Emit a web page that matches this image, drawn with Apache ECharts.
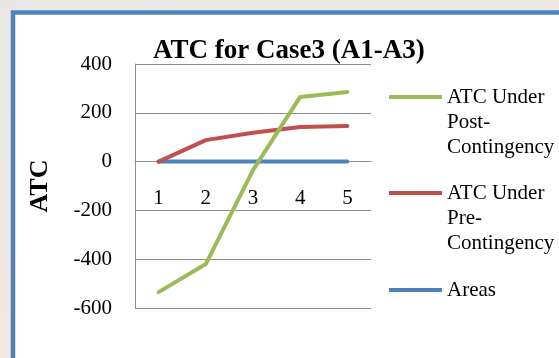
<!DOCTYPE html>
<html>
<head>
<meta charset="utf-8">
<script src="https://cdn.jsdelivr.net/npm/echarts@6/dist/echarts.min.js"></script>
<style>
html,body{margin:0;padding:0;}
#c{width:559px;height:358px;}
</style>
</head>
<body>
<div id="c"></div>
<script>
const categories = ['1', '2', '3', '4', '5'];
const postContingency = [-535, -420, -35, 265, 285];
const preContingency = [0, 88, 118, 142, 146];
const areas = [0, 0, 0, 0, 0];
const seriesNames = ['ATC Under\nPost-\nContingency', 'ATC Under\nPre-\nContingency', 'Areas'];
const titleText = 'ATC for Case3 (A1-A3)';
const yName = 'ATC';

const serif = '"Liberation Serif", "DejaVu Serif", serif';
const chart = echarts.init(document.getElementById('c'));
const legendBase = {
  orient: 'vertical', left: 389, padding: 0, icon: 'rect',
  itemWidth: 53, itemHeight: 4, itemGap: 5,
  textStyle: { fontFamily: serif, fontSize: 21, color: '#000', lineHeight: 25 }
};
const shiftDown = function (name) { return '\n\n' + name; };
chart.setOption({
  backgroundColor: {
    type: 'linear', x: 0, y: 0, x2: 0.3, y2: 1,
    colorStops: [{ offset: 0, color: '#e9e7e5' }, { offset: 1, color: '#f1e8df' }]
  },
  graphic: [{
    type: 'rect', z: -10, silent: true,
    shape: { x: 13, y: 12.5, width: 700, height: 500 },
    style: { fill: '#ffffff', stroke: '#4F81BD', lineWidth: 4.5 }
  }],
  title: {
    text: titleText, left: 153, top: 38, padding: 0,
    textStyle: { fontFamily: serif, fontSize: 27, fontWeight: 'bold', color: '#000' }
  },
  legend: [
    Object.assign({}, legendBase, { top: 34.5, formatter: shiftDown, data: [seriesNames[0]] }),
    Object.assign({}, legendBase, { top: 130.5, formatter: shiftDown, data: [seriesNames[1]] }),
    Object.assign({}, legendBase, { top: 277.5, data: [seriesNames[2]] })
  ],
  grid: { left: 135, right: 188, top: 64, bottom: 50 },
  xAxis: {
    type: 'category', data: categories, boundaryGap: true,
    offset: -146.4,
    axisLine: { onZero: false, lineStyle: { color: '#8E8E8E', width: 1 } },
    axisTick: { show: false },
    axisLabel: { fontFamily: serif, fontSize: 21, color: '#000', margin: 26 }
  },
  yAxis: {
    type: 'value', min: -600, max: 400, interval: 200,
    name: yName, nameLocation: 'middle', nameRotate: 90, nameGap: 82,
    nameTextStyle: { fontFamily: serif, fontSize: 26, fontWeight: 'bold', color: '#000' },
    axisLine: { show: true, lineStyle: { color: '#8E8E8E', width: 1 } },
    axisTick: { show: false },
    splitLine: { lineStyle: { color: '#8E8E8E', width: 1 } },
    axisLabel: { fontFamily: serif, fontSize: 21, color: '#000', margin: 23 }
  },
  series: [
    { name: seriesNames[2], type: 'line', data: areas, symbol: 'none', z: 2,
      lineStyle: { color: '#4F81BD', width: 4, cap: 'round' }, itemStyle: { color: '#4F81BD' } },
    { name: seriesNames[1], type: 'line', data: preContingency, symbol: 'none', z: 3,
      lineStyle: { color: '#C0504D', width: 4, cap: 'round' }, itemStyle: { color: '#C0504D' } },
    { name: seriesNames[0], type: 'line', data: postContingency, symbol: 'none', z: 4,
      lineStyle: { color: '#9BBB59', width: 4, cap: 'round' }, itemStyle: { color: '#9BBB59' } }
  ],
  animation: false
});
</script>
</body>
</html>
